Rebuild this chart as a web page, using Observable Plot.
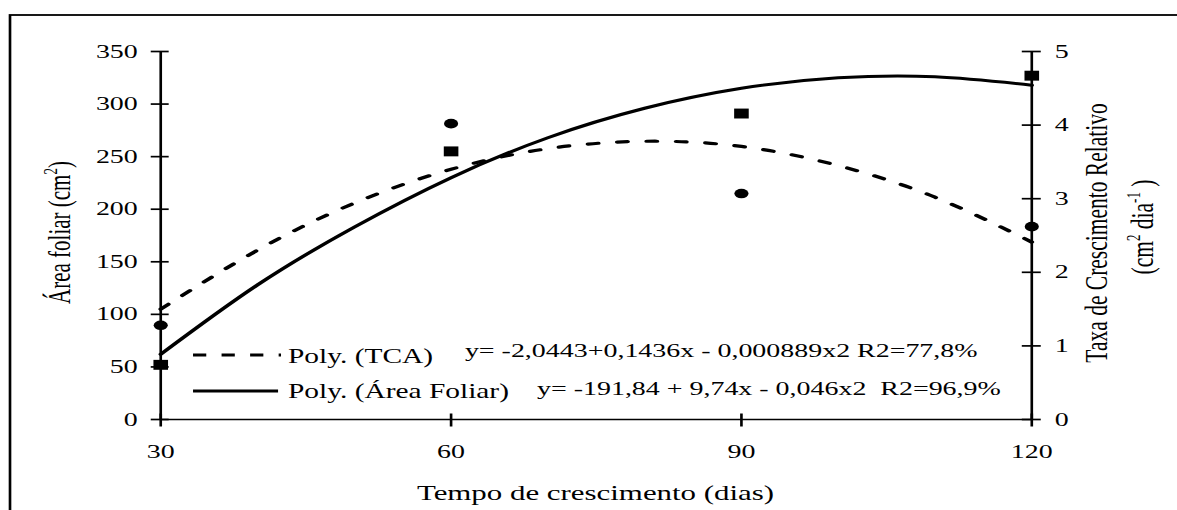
<!DOCTYPE html>
<html><head><meta charset="utf-8">
<script src="https://cdn.jsdelivr.net/npm/d3@7"></script>
<script src="https://cdn.jsdelivr.net/npm/@observablehq/plot@0.6"></script>
<style>
html,body{margin:0;padding:0;background:#fff;}
#chart{width:1177px;height:510px;overflow:hidden;}
#chart svg{display:block;}
</style></head><body><div id="chart"></div>
<script>
// ---- data ----
const days = [30, 60, 90, 120];
const areaFoliar = [52, 255, 291, 327];          // squares, left axis (cm2)
const tca = [1.28, 4.02, 3.07, 2.62];            // circles, right axis
const fitDays = [30, 40, 50, 60, 70, 80, 90, 100, 110, 120];
const areaFit = [62, 128, 183, 230, 268, 296, 315, 325, 326, 318];   // Poly. (Área Foliar)
const tcaFit = [1.5, 2.3, 2.94, 3.4, 3.68, 3.78, 3.71, 3.45, 3.02, 2.41]; // Poly. (TCA)
const xTicks = [30, 60, 90, 120];
const areaTicks = [0, 50, 100, 150, 200, 250, 300, 350];
const tcaTicks = [0, 1, 2, 3, 4, 5];
const legendLabels = ["Poly. (TCA)", "Poly. (Área Foliar)"];
const equations = ["y= -2,0443+0,1436x - 0,000889x2 R2=77,8%", "y= -191,84 + 9,74x - 0,046x2  R2=96,9%"];
const xTitle = "Tempo de crescimento (dias)";
const yTitleLeft = ["Área foliar (cm", "2", ")"];
const yTitleRight1 = "Taxa de Crescimento Relativo";
const yTitleRight2 = ["(cm", "2", " dia", "-1", " )"];

// ---- layout (drawn in an unstretched space, then stretched horizontally) ----
const W = 800, H = 510, SX = 1177 / W;
const K = areaTicks[areaTicks.length - 1] / tcaTicks[tcaTicks.length - 1]; // right-axis to left-axis factor
const FONT = "Liberation Serif, Times New Roman, serif";

const points = days.map((d, i) => ({day: d, area: areaFoliar[i], tca: tca[i]}));
const fits = fitDays.map((d, i) => ({day: d, area: areaFit[i], tca: tcaFit[i]}));

const tickSym = (a, b, vertical) => ({
  draw(ctx) {
    if (vertical) { ctx.moveTo(0, a); ctx.lineTo(0, b); }
    else { ctx.moveTo(a, 0); ctx.lineTo(b, 0); }
  }
});

const mL = 108.75, mR = 99.2, mT = 51, mB = 91;

const plot = Plot.plot({
  width: W, height: H,
  marginLeft: mL, marginRight: mR, marginTop: mT, marginBottom: mB,
  style: {fontFamily: FONT, fontSize: "19px", background: "white", color: "black"},
  x: {domain: [xTicks[0], xTicks[xTicks.length - 1]], label: null},
  y: {domain: [areaTicks[0], areaTicks[areaTicks.length - 1]], label: null},
  marks: [
    Plot.axisY(areaTicks, {anchor: "left", tickSize: 0, tickPadding: 15.6, label: null}),
    Plot.axisY(tcaTicks.map(v => v * K), {anchor: "right", tickSize: 0, tickPadding: 15.6, label: null, tickFormat: v => String(Math.round(v / K))}),
    Plot.axisX(xTicks, {anchor: "bottom", tickSize: 0, tickPadding: 25, label: null}),
    Plot.ruleY([areaTicks[0]], {stroke: "black", strokeWidth: 1.7}),
    Plot.ruleX([xTicks[0], xTicks[xTicks.length - 1]], {stroke: "black", strokeWidth: 1.8}),
    Plot.dot(areaTicks, {y: d => d, frameAnchor: "left", symbol: tickSym(-6.8, 5.4, false), stroke: "black", fill: "none", strokeWidth: 1.7}),
    Plot.dot(tcaTicks, {y: d => d * K, frameAnchor: "right", symbol: tickSym(-6.8, 6.1, false), stroke: "black", fill: "none", strokeWidth: 1.7}),
    Plot.dot(xTicks, {x: d => d, frameAnchor: "bottom", symbol: tickSym(-6, 7, true), stroke: "black", fill: "none", strokeWidth: 1.8}),
    Plot.line(fits, {x: "day", y: "area", curve: "natural", stroke: "black", strokeWidth: 3}),
    Plot.line(fits, {x: "day", y: d => d.tca * K, curve: "natural", stroke: "black", strokeWidth: 3.2, strokeDasharray: "7,13"}),
    Plot.dot(points, {x: "day", y: "area", symbol: "square", r: 5.6, fill: "black", stroke: "none"}),
    Plot.dot(points, {x: "day", y: d => d.tca * K, symbol: "circle", r: 4.8, fill: "black", stroke: "none"})
  ]
});

const svg = plot;
svg.setAttribute("width", 1177);
svg.setAttribute("height", 510);
svg.setAttribute("viewBox", `0 0 ${W} ${H}`);
svg.setAttribute("preserveAspectRatio", "none");
svg.style.width = "1177px";
svg.style.height = "510px";
svg.style.maxWidth = "none";
document.getElementById("chart").appendChild(svg);

const g = d3.select(svg).append("g").attr("font-family", FONT).attr("fill", "black").attr("text-anchor", "start");

// outer border (right and bottom sides fall outside the picture)
g.append("rect").attr("x", 6.8).attr("y", 15).attr("width", 800).attr("height", 600)
  .attr("fill", "none").attr("stroke", "black").attr("stroke-width", 1.8);

// x title
g.append("text").attr("x", (mL + (W - mR)) / 2).attr("y", 500).attr("text-anchor", "middle")
  .attr("font-size", 21).text(xTitle);

// left title
const tl = g.append("text").attr("transform", "translate(47.6,232.5) rotate(-90)")
  .attr("text-anchor", "middle").attr("font-size", 21);
tl.append("tspan").text(yTitleLeft[0]);
tl.append("tspan").attr("dy", -9).attr("font-size", 13).text(yTitleLeft[1]);
tl.append("tspan").attr("dy", 9).text(yTitleLeft[2]);

// right title
g.append("text").attr("transform", "translate(752.4,233) rotate(-90)")
  .attr("text-anchor", "middle").attr("font-size", 21.5).text(yTitleRight1);
const tr = g.append("text").attr("transform", "translate(783.7,227) rotate(-90)")
  .attr("text-anchor", "middle").attr("font-size", 21.5);
tr.append("tspan").text(yTitleRight2[0]);
tr.append("tspan").attr("dy", -9).attr("font-size", 13).text(yTitleRight2[1]);
tr.append("tspan").attr("dy", 9).text(yTitleRight2[2]);
tr.append("tspan").attr("dy", -9).attr("font-size", 13).text(yTitleRight2[3]);
tr.append("tspan").attr("dy", 9).text(yTitleRight2[4]);

// legend
g.append("line").attr("x1", 131.2).attr("x2", 191).attr("y1", 355).attr("y2", 355)
  .attr("stroke", "black").attr("stroke-width", 3.2).attr("stroke-dasharray", "9,10.4");
g.append("line").attr("x1", 131.2).attr("x2", 189).attr("y1", 391).attr("y2", 391)
  .attr("stroke", "black").attr("stroke-width", 3);
g.append("text").attr("x", 195.7).attr("y", 363).attr("font-size", 20).style("white-space", "pre").text(legendLabels[0]);
g.append("text").attr("x", 195.7).attr("y", 398).attr("font-size", 20).style("white-space", "pre").text(legendLabels[1]);
g.append("text").attr("x", 316).attr("y", 357.5).attr("font-size", 19).style("white-space", "pre").text(equations[0]);
g.append("text").attr("x", 365).attr("y", 395).attr("font-size", 19).style("white-space", "pre").text(equations[1]);
</script>
</body></html>
